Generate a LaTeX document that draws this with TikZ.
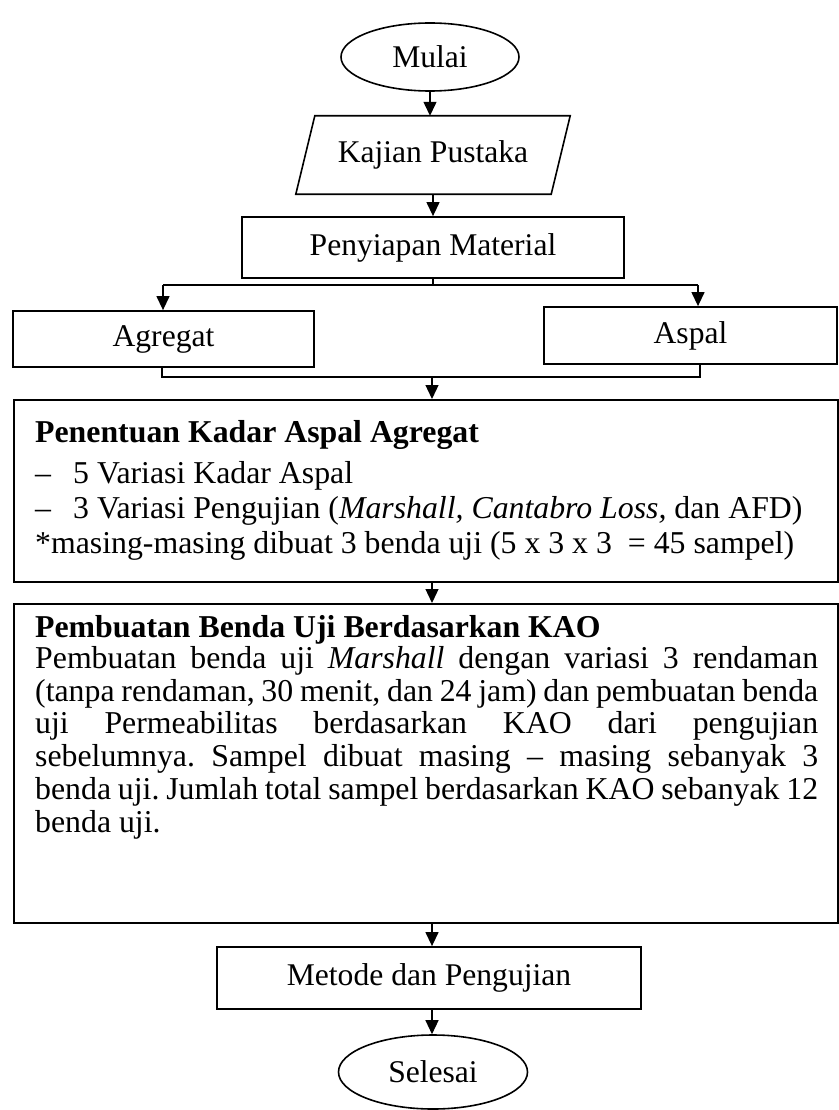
\documentclass[tikz,border=0pt]{standalone}
\usepackage{fontspec}
\setmainfont{Liberation Serif}
\usetikzlibrary{arrows.meta,shapes.geometric}
\frenchspacing
\begin{document}
\begin{tikzpicture}[x=1pt,y=-1pt,
  box/.style={draw,line width=1.8pt,rectangle,inner sep=0pt},
  term/.style={draw,line width=1.6pt,ellipse,inner sep=0pt},
  conn/.style={line width=1.3pt},
  arr/.style={conn,-{Triangle[width=13pt,length=14pt]}},
  lbl/.style={font=\fontsize{31.6}{35}\selectfont},
  txt/.style={anchor=base west,inner sep=0pt,font=\fontsize{31.8}{35}\selectfont\frenchspacing}
]
\useasboundingbox (0,0) rectangle (838,1110);
\fill[white] (0,0) rectangle (838,1110);

% terminals and boxes
\node[term,minimum width=178pt,minimum height=68pt,lbl] (mulai) at (430,57) {Mulai};
\node[rectangle,inner sep=0pt,minimum width=255pt,minimum height=78pt,lbl] (kajian) at (433,155) {Kajian Pustaka};
\draw[line width=1.6pt] ([xshift=9.5pt]kajian.north west) -- ([xshift=9.5pt]kajian.north east)
  -- ([xshift=-9.5pt]kajian.south east) -- ([xshift=-9.5pt]kajian.south west) -- cycle;
\node[box,minimum width=382pt,minimum height=61pt,lbl] (penyiapan) at (433,247.5) {Penyiapan Material};
\node[box,minimum width=301pt,minimum height=56pt,lbl] (agregat) at (163.5,339) {Agregat};
\node[box,minimum width=293pt,minimum height=57pt,lbl] (aspal) at (690.5,335.5) {Aspal};
\node[box,minimum width=824pt,minimum height=182pt,anchor=north west] (penentuan) at (13,399) {};
\node[box,minimum width=824pt,minimum height=319pt,anchor=north west] (pembuatan) at (13,603) {};
\node[box,minimum width=424pt,minimum height=62pt,lbl] (metode) at (429,978) {Metode dan Pengujian};
\node[term,minimum width=189pt,minimum height=74pt,lbl] (selesai) at (433,1072) {Selesai};

% text of Penentuan
\node[txt] (p1) at (35,442) {\textbf{Penentuan Kadar Aspal Agregat}};
\node[txt] (p2) at (35,483) {\makebox[38pt][l]{–}5 Variasi Kadar Aspal};
\node[txt] (p3) at (35,518) {\makebox[38pt][l]{–}3 Variasi Pengujian (\textit{Marshall, Cantabro Loss,} dan AFD)};
\node[txt] (p4) at (35,553) {*masing-masing dibuat 3 benda uji (5 x 3 x 3\ \ = 45 sampel)};

% text of Pembuatan
\node[txt] (q0) at (35,637) {\textbf{Pembuatan Benda Uji Berdasarkan KAO}};
\node[txt] (q1) at (35,668) {\makebox[783pt][s]{Pembuatan benda uji \textit{Marshall} dengan variasi 3 rendaman}};
\node[txt] (q2) at (35,701) {\makebox[783pt][s]{(tanpa rendaman, 30 menit, dan 24 jam) dan pembuatan benda}};
\node[txt] (q3) at (35,733) {\makebox[783pt][s]{uji Permeabilitas berdasarkan KAO dari pengujian}};
\node[txt] (q4) at (35,766) {\makebox[783pt][s]{sebelumnya. Sampel dibuat masing – masing sebanyak 3}};
\node[txt] (q5) at (35,799) {\makebox[783pt][s]{benda uji. Jumlah total sampel berdasarkan KAO sebanyak 12}};
\node[txt] (q6) at (35,832) {benda uji.};

% connectors
\coordinate (sL) at (163,285);
\coordinate (sR) at (698,285);
\coordinate (jL) at (162,377);
\coordinate (jR) at (700,377);
\coordinate (jM) at (432,377);

\draw[arr] (mulai.south) -- (mulai.south |- kajian.north);
\draw[arr] (kajian.south) -- (kajian.south |- penyiapan.north);
\draw[conn] (penyiapan.south) -- (penyiapan.south |- sL);
\draw[conn] (sL) -- (sR);
\draw[arr] (sL) -- (sL |- agregat.north);
\draw[arr] (sR) -- (sR |- aspal.north);
\draw[conn] (jL |- agregat.south) -- (jL) -- (jR) -- (jR |- aspal.south);
\draw[arr] (jM) -- (jM |- penentuan.north);
\draw[arr] (penentuan.south -| jM) -- (jM |- pembuatan.north);
\draw[arr] (pembuatan.south -| jM) -- (jM |- metode.north);
\draw[arr] (metode.south -| jM) -- (jM |- selesai.north);
\end{tikzpicture}
\end{document}
